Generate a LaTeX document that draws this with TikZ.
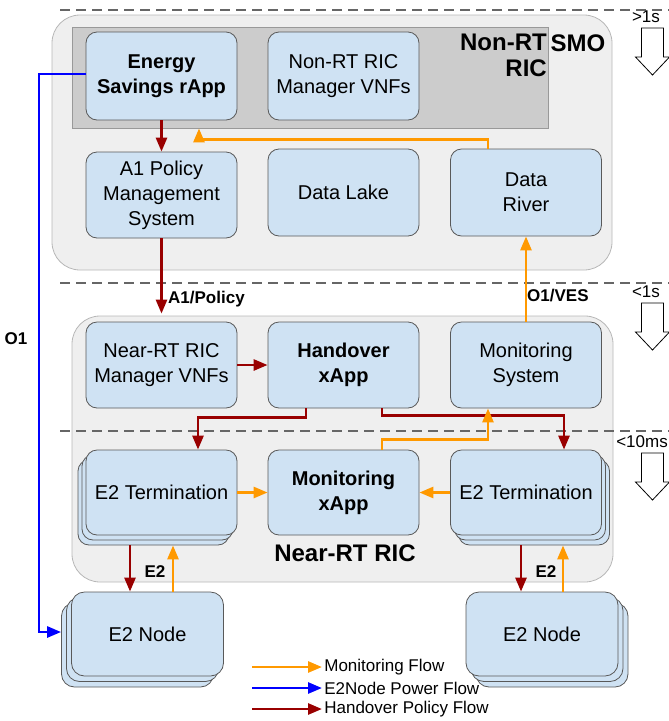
\documentclass[tikz,border=0pt]{standalone}
\usepackage{fontspec}
\setmainfont{Liberation Sans}
\usepackage{tikz}
\usetikzlibrary{arrows.meta,shadows,calc}
\usepackage{xcolor}
\definecolor{boxfill}{HTML}{CFE2F3}
\definecolor{boxline}{HTML}{595959}
\definecolor{panefill}{HTML}{EFEFEF}
\definecolor{paneline}{HTML}{B7B7B7}
\definecolor{nonrtfill}{HTML}{CCCCCC}
\definecolor{nonrtline}{HTML}{999999}
\definecolor{monorange}{HTML}{FF9900}
\definecolor{pwrblue}{HTML}{0000FF}
\definecolor{hored}{HTML}{990000}
\definecolor{dashgray}{HTML}{666666}
\newcommand{\boxfont}{\fontsize{20}{25}\selectfont}
\newcommand{\tagfont}{\fontsize{17}{20}\selectfont\bfseries}
\tikzstyle{pane}=[
  draw=paneline,fill=panefill,rounded corners=28pt,line width=0.8pt
]
\tikzstyle{nonrtpane}=[
  draw=nonrtline,fill=nonrtfill,line width=0.8pt
]
\tikzstyle{ricbox}=[
  draw=boxline,fill=boxfill,rounded corners=11pt,line width=0.8pt,
  minimum width=151pt,minimum height=87pt,align=center,font=\boxfont,inner sep=2pt
]
\tikzstyle{stackleft}=[
  ricbox,double copy shadow={shadow xshift=-4pt,shadow yshift=-5pt,fill=boxfill,draw=boxline}
]
\tikzstyle{stackright}=[
  ricbox,double copy shadow={shadow xshift=4pt,shadow yshift=-5pt,fill=boxfill,draw=boxline}
]
\tikzstyle{nodeleft}=[
  ricbox,rounded corners=13pt,double copy shadow={shadow xshift=-5pt,shadow yshift=-5.5pt,fill=boxfill,draw=boxline}
]
\tikzstyle{noderight}=[
  ricbox,rounded corners=13pt,double copy shadow={shadow xshift=5pt,shadow yshift=-5.5pt,fill=boxfill,draw=boxline}
]
\tikzstyle{flow}=[
  line width=2.7pt,-{Triangle[length=14pt,width=11pt]}
]
\tikzstyle{monflow}=[flow,monorange]
\tikzstyle{pwrflow}=[flow,pwrblue]
\tikzstyle{hoflow}=[flow,hored]
\tikzstyle{timeline}=[
  dashgray,line width=2.5pt,dash pattern=on 10pt off 6pt
]
\tikzstyle{hollowarrow}=[
  draw=black,fill=white,line width=0.8pt
]
\tikzstyle{legtext}=[
  anchor=west,inner sep=1pt,text=black,font=\fontsize{17}{20}\selectfont
]

\begin{document}
\begin{tikzpicture}[x=1pt,y=-1pt]
  \useasboundingbox (0,0) rectangle (669,721);
  % containers
  \node (smo) [pane,minimum width=560pt,minimum height=255pt] at (332,142.5) {};
  \node (nonrt) [nonrtpane,minimum width=476pt,minimum height=101pt] at (310,77.5) {};
  \node (nearric) [pane,minimum width=541pt,minimum height=266pt] at (342.5,449) {};
  \node (nonrtlbl) [anchor=east,align=right,inner sep=0pt,font=\fontsize{24}{26}\selectfont\bfseries] at (547,55) {Non-RT\\RIC};
  \node (smolbl) [inner sep=0pt,font=\fontsize{24}{26}\selectfont\bfseries] at (578,43) {SMO};
  \node (nearlbl) [inner sep=0pt,font=\fontsize{24}{26}\selectfont\bfseries] at (345,553) {Near-RT RIC};
  % time scales
  \foreach \t in {10,283,431}
    \draw[timeline] (60,\t) -- (669,\t);
  \foreach \t/\lbl/\tx/\anc in {28/{>1s}/646/center,303/{<1s}/646/center,453/{<10ms}/668/east}{
    \draw[hollowarrow] (641.5,\t) -- (663.5,\t) -- (663.5,\t+29) -- (669.5,\t+29)
      -- (652.5,\t+47) -- (635.5,\t+29) -- (641.5,\t+29) -- cycle;
    \node [anchor=\anc,inner sep=0pt,font=\fontsize{17}{20}\selectfont] at (\tx,\t-11) {\lbl};
  }
  % boxes
  \node (energy) [ricbox,minimum height=88pt,font=\boxfont\bfseries] at (161.5,76) {Energy\\Savings rApp};
  \node (nrtmgr) [ricbox,minimum height=88pt] at (343.5,76) {Non-RT RIC\\Manager VNFs};
  \node (a1) [ricbox,minimum height=86pt] at (161.5,195) {A1 Policy\\Management\\System};
  \node (lake) [ricbox] at (343.5,192.5) {Data Lake};
  \node (river) [ricbox] at (526,192.5) {Data\\River};
  \node (nrmgr) [ricbox,minimum height=86pt] at (161.5,365) {Near-RT RIC\\Manager VNFs};
  \node (hoxapp) [ricbox,minimum height=86pt,font=\boxfont\bfseries] at (343.5,365) {Handover\\xApp};
  \node (monsys) [ricbox,minimum height=86pt] at (526,365) {Monitoring\\System};
  \node (e2tl) [stackleft,minimum height=85pt] at (161.5,492.5) {E2 Termination};
  \node (monxapp) [ricbox,minimum height=85pt,font=\boxfont\bfseries] at (343.5,492.5) {Monitoring\\xApp};
  \node (e2tr) [stackright,minimum height=85pt] at (526,492.5) {E2 Termination};
  \node (e2nl) [nodeleft,minimum width=152pt,minimum height=84pt] at (147.5,634) {E2 Node};
  \node (e2nr) [noderight,minimum width=152pt,minimum height=84pt] at (542,634) {E2 Node};
  % flows
  \draw[hoflow] (energy.south) -- (a1.north);
  \draw[monflow] ([xshift=-38pt]river.north) -- ++(0,-9) -| ([xshift=-111pt]nonrt.south);
  \draw[monflow] (monsys.north) -- (river.south);
  \draw[hoflow] (a1.south) -- ([yshift=2pt]a1.south |- nearric.north);
  \draw[hoflow] (nrmgr.east) -- (hoxapp.west);
  \draw[hoflow] ([xshift=-37.5pt]hoxapp.south) -- ++(0,9) -| ([xshift=36.5pt]e2tl.north);
  \draw[hoflow] ([xshift=38.5pt]hoxapp.south) -- ++(0,7) -| ([xshift=38pt]e2tr.north);
  \draw[monflow] ([xshift=38.5pt]monxapp.north) -- ++(0,-10) -| ([xshift=-38pt]monsys.south);
  \draw[monflow] (e2tl.east) -- (monxapp.west);
  \draw[monflow] (e2tr.west) -- (monxapp.east);
  \draw[hoflow] ([xshift=-31.5pt,yshift=-10pt]e2tl.south) -- ([xshift=-17.5pt]e2nl.north);
  \draw[monflow] ([xshift=25.5pt]e2nl.north) -- ([xshift=11.5pt,yshift=-10pt]e2tl.south);
  \draw[hoflow] ([xshift=-5pt,yshift=-10pt]e2tr.south) -- ([xshift=-21pt]e2nr.north);
  \draw[monflow] ([xshift=21pt]e2nr.north) -- ([xshift=37pt,yshift=-10pt]e2tr.south);
  \coordinate (o1bend) at (39,632);
  \draw[pwrflow] ([yshift=2pt]energy.west) -| (o1bend) -- ([xshift=-10pt,yshift=2pt]e2nl.west);
  % interface labels
  \node (a1lbl) [anchor=west,inner sep=0pt,font=\tagfont] at (168,299) {A1/Policy};
  \node (veslbl) [anchor=west,inner sep=0pt,font=\tagfont] at (527,296) {O1/VES};
  \node (o1lbl) [inner sep=0pt,font=\tagfont] at (16,339) {O1};
  \node (e2lbll) [inner sep=0pt,font=\tagfont] at (155,572) {E2};
  \node (e2lblr) [inner sep=0pt,font=\tagfont] at (546,572) {E2};
  % legend
  \coordinate (lgmon) at (252,667);
  \coordinate (lgpwr) at (252,688);
  \coordinate (lgho) at (252,709);
  \draw[monflow] (lgmon) -- ++(70,0) node[legtext] {Monitoring Flow};
  \draw[pwrflow] (lgpwr) -- ++(70,0) node[legtext] {E2Node Power Flow};
  \draw[hoflow] (lgho) -- ++(70,0) node[legtext] {Handover Policy Flow};
\end{tikzpicture}
\end{document}
